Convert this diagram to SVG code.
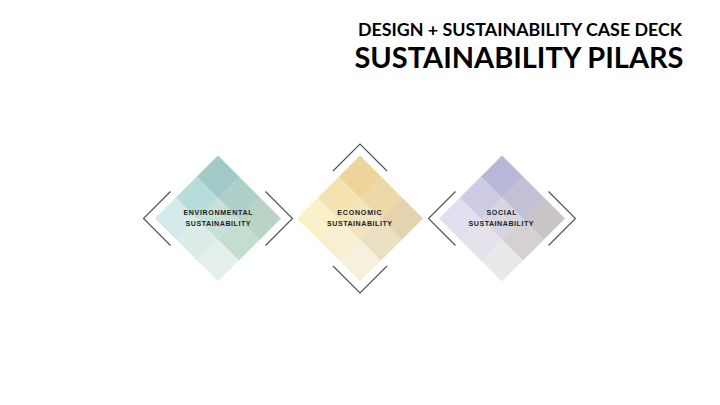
<svg xmlns="http://www.w3.org/2000/svg" width="720" height="405" viewBox="0 0 720 405">
<style>
.t1{font-family:Lato,"Open Sans","Liberation Sans",sans-serif;font-weight:bold;fill:#000}
.lbl{font-family:"Liberation Sans",Arial,sans-serif;font-weight:bold;font-size:7.1px;fill:#222;text-anchor:middle}
.br{fill:none;stroke:#4d4d4d;stroke-width:1.1}
</style>
<rect width="720" height="405" fill="#fff"/>
<g id="title">
<text class="t1" x="358" y="35.7" font-size="16.5" textLength="324" lengthAdjust="spacingAndGlyphs">DESIGN + SUSTAINABILITY CASE DECK</text>
<text class="t1" x="354.5" y="68.3" font-size="29.3" textLength="329" lengthAdjust="spacingAndGlyphs">SUSTAINABILITY PILARS</text>
</g>
<g id="environmental">
<g transform="translate(218,218.5) rotate(45)">
<rect x="-44.55" y="-44.55" width="30" height="30" fill="#a0c9c7"/>
<rect x="-14.85" y="-44.55" width="30" height="30" fill="#afcfca"/>
<rect x="14.85" y="-44.55" width="29.7" height="30" fill="#bad3c7"/>
<rect x="-44.55" y="-14.85" width="30" height="30" fill="#b6dcdc"/>
<rect x="-14.85" y="-14.85" width="30" height="30" fill="#c7e0da"/>
<rect x="14.85" y="-14.85" width="29.7" height="30" fill="#c5ddd1"/>
<rect x="-44.55" y="14.85" width="30" height="29.7" fill="#d4e9ea"/>
<rect x="-14.85" y="14.85" width="30" height="29.7" fill="#dcece8"/>
<rect x="14.85" y="14.85" width="29.7" height="29.7" fill="#e6f0ea"/>
</g>
<text class="lbl" x="218" y="215" textLength="69" lengthAdjust="spacing">ENVIRONMENTAL</text>
<text class="lbl" x="218" y="226.3" textLength="65" lengthAdjust="spacing">SUSTAINABILITY</text>
</g>
<g id="economic">
<g transform="translate(360,218.5) rotate(45)">
<rect x="-44.55" y="-44.55" width="30" height="30" fill="#eed49b"/>
<rect x="-14.85" y="-44.55" width="30" height="30" fill="#edd8a7"/>
<rect x="14.85" y="-44.55" width="29.7" height="30" fill="#e4d3af"/>
<rect x="-44.55" y="-14.85" width="30" height="30" fill="#f4e2af"/>
<rect x="-14.85" y="-14.85" width="30" height="30" fill="#f2e4bc"/>
<rect x="14.85" y="-14.85" width="29.7" height="30" fill="#ebdfc1"/>
<rect x="-44.55" y="14.85" width="30" height="29.7" fill="#fbf1c9"/>
<rect x="-14.85" y="14.85" width="30" height="29.7" fill="#f8eed1"/>
<rect x="14.85" y="14.85" width="29.7" height="29.7" fill="#f6f0dd"/>
</g>
<text class="lbl" x="359.5" y="215" textLength="44.4" lengthAdjust="spacing">ECONOMIC</text>
<text class="lbl" x="359.5" y="226.3" textLength="65" lengthAdjust="spacing">SUSTAINABILITY</text>
</g>
<g id="social">
<g transform="translate(502,218.5) rotate(45)">
<rect x="-44.55" y="-44.55" width="30" height="30" fill="#b7b7d7"/>
<rect x="-14.85" y="-44.55" width="30" height="30" fill="#c3c0d5"/>
<rect x="14.85" y="-44.55" width="29.7" height="30" fill="#c9c4c7"/>
<rect x="-44.55" y="-14.85" width="30" height="30" fill="#cccbe3"/>
<rect x="-14.85" y="-14.85" width="30" height="30" fill="#d7d5e3"/>
<rect x="14.85" y="-14.85" width="29.7" height="30" fill="#d5d1d3"/>
<rect x="-44.55" y="14.85" width="30" height="29.7" fill="#e0dff0"/>
<rect x="-14.85" y="14.85" width="30" height="29.7" fill="#e4e2ea"/>
<rect x="14.85" y="14.85" width="29.7" height="29.7" fill="#eae9e9"/>
</g>
<text class="lbl" x="501.5" y="215" textLength="30" lengthAdjust="spacing">SOCIAL</text>
<text class="lbl" x="501" y="226.3" textLength="65" lengthAdjust="spacing">SUSTAINABILITY</text>
</g>
<g id="connectors">
<polyline class="br" points="170.5,191.5 143.5,218.5 170.5,245.5"/>
<polyline class="br" points="265.5,191.5 292.5,218.5 265.5,245.5"/>
<polyline class="br" points="333,171 360,144 387,171"/>
<polyline class="br" points="333,266 360,293 387,266"/>
<polyline class="br" points="455.5,191.5 428.5,218.5 455.5,245.5"/>
<polyline class="br" points="548.5,191.5 575.5,218.5 548.5,245.5"/>
</g>
</svg>
